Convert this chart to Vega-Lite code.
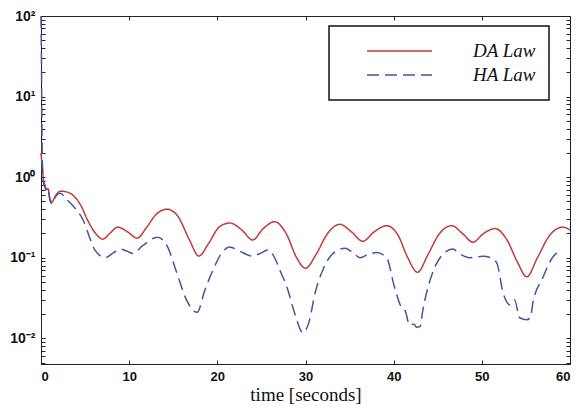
{
  "$schema": "https://vega.github.io/schema/vega-lite/v6.json",
  "autosize": "none",
  "width": 529,
  "height": 348,
  "padding": {"left": 41, "top": 16, "right": 9, "bottom": 51},
  "background": "white",
  "config": {
    "view": {"stroke": null},
    "legend": {"strokeWidth": 1.5},
    "axis": {"grid": false, "domainColor": "#222", "tickColor": "#222", "labelColor": "#111", "labelFont": "Liberation Sans", "labelFontSize": 13, "labelFontWeight": "bold"}
  },
  "datasets": {
    "curves": [
      {"t": 0, "v": 2.0, "s": "DA Law"}, {"t": 0.15, "v": 1.3, "s": "DA Law"}, {"t": 0.3, "v": 0.9, "s": "DA Law"}, {"t": 0.45, "v": 0.8, "s": "DA Law"}, {"t": 0.6, "v": 0.7, "s": "DA Law"}, {"t": 0.8, "v": 0.72, "s": "DA Law"}, {"t": 1.0, "v": 0.55, "s": "DA Law"}, {"t": 1.25, "v": 0.49, "s": "DA Law"}, {"t": 1.5, "v": 0.55, "s": "DA Law"}, {"t": 1.8, "v": 0.62, "s": "DA Law"}, {"t": 2.2, "v": 0.67, "s": "DA Law"}, {"t": 2.8, "v": 0.66, "s": "DA Law"}, {"t": 3.6, "v": 0.6, "s": "DA Law"}, {"t": 4.5, "v": 0.45, "s": "DA Law"}, {"t": 5.3, "v": 0.29, "s": "DA Law"}, {"t": 6.2, "v": 0.2, "s": "DA Law"}, {"t": 7.0, "v": 0.17, "s": "DA Law"}, {"t": 7.8, "v": 0.2, "s": "DA Law"}, {"t": 8.7, "v": 0.24, "s": "DA Law"}, {"t": 9.8, "v": 0.21, "s": "DA Law"}, {"t": 10.9, "v": 0.175, "s": "DA Law"}, {"t": 12.0, "v": 0.24, "s": "DA Law"}, {"t": 13.0, "v": 0.34, "s": "DA Law"}, {"t": 14.3, "v": 0.4, "s": "DA Law"}, {"t": 15.5, "v": 0.33, "s": "DA Law"}, {"t": 16.8, "v": 0.17, "s": "DA Law"}, {"t": 17.9, "v": 0.105, "s": "DA Law"}, {"t": 19.0, "v": 0.15, "s": "DA Law"}, {"t": 20.2, "v": 0.24, "s": "DA Law"}, {"t": 21.4, "v": 0.27, "s": "DA Law"}, {"t": 22.8, "v": 0.22, "s": "DA Law"}, {"t": 24.0, "v": 0.166, "s": "DA Law"}, {"t": 25.2, "v": 0.23, "s": "DA Law"}, {"t": 26.5, "v": 0.28, "s": "DA Law"}, {"t": 27.8, "v": 0.2, "s": "DA Law"}, {"t": 29.0, "v": 0.1, "s": "DA Law"}, {"t": 30.0, "v": 0.074, "s": "DA Law"}, {"t": 31.2, "v": 0.11, "s": "DA Law"}, {"t": 32.5, "v": 0.2, "s": "DA Law"}, {"t": 33.9, "v": 0.26, "s": "DA Law"}, {"t": 35.2, "v": 0.21, "s": "DA Law"}, {"t": 36.5, "v": 0.16, "s": "DA Law"}, {"t": 37.8, "v": 0.21, "s": "DA Law"}, {"t": 39.2, "v": 0.25, "s": "DA Law"}, {"t": 40.5, "v": 0.19, "s": "DA Law"}, {"t": 41.6, "v": 0.1, "s": "DA Law"}, {"t": 42.7, "v": 0.066, "s": "DA Law"}, {"t": 43.9, "v": 0.11, "s": "DA Law"}, {"t": 45.2, "v": 0.2, "s": "DA Law"}, {"t": 46.6, "v": 0.25, "s": "DA Law"}, {"t": 47.8, "v": 0.2, "s": "DA Law"}, {"t": 49.0, "v": 0.156, "s": "DA Law"}, {"t": 50.2, "v": 0.2, "s": "DA Law"}, {"t": 51.5, "v": 0.23, "s": "DA Law"}, {"t": 52.8, "v": 0.17, "s": "DA Law"}, {"t": 54.0, "v": 0.09, "s": "DA Law"}, {"t": 55.1, "v": 0.058, "s": "DA Law"}, {"t": 56.3, "v": 0.1, "s": "DA Law"}, {"t": 57.7, "v": 0.19, "s": "DA Law"}, {"t": 59.2, "v": 0.24, "s": "DA Law"}, {"t": 60, "v": 0.22, "s": "DA Law"},
      {"t": 0, "v": 100, "s": "HA Law"}, {"t": 0.05, "v": 30, "s": "HA Law"}, {"t": 0.1, "v": 5, "s": "HA Law"}, {"t": 0.15, "v": 1.6, "s": "HA Law"}, {"t": 0.3, "v": 0.85, "s": "HA Law"}, {"t": 0.45, "v": 0.75, "s": "HA Law"}, {"t": 0.6, "v": 0.68, "s": "HA Law"}, {"t": 0.8, "v": 0.7, "s": "HA Law"}, {"t": 1.0, "v": 0.52, "s": "HA Law"}, {"t": 1.25, "v": 0.47, "s": "HA Law"}, {"t": 1.5, "v": 0.53, "s": "HA Law"}, {"t": 1.8, "v": 0.6, "s": "HA Law"}, {"t": 2.2, "v": 0.63, "s": "HA Law"}, {"t": 2.9, "v": 0.53, "s": "HA Law"}, {"t": 3.8, "v": 0.42, "s": "HA Law"}, {"t": 4.8, "v": 0.29, "s": "HA Law"}, {"t": 5.5, "v": 0.18, "s": "HA Law"}, {"t": 6.1, "v": 0.125, "s": "HA Law"}, {"t": 7.3, "v": 0.1, "s": "HA Law"}, {"t": 8.2, "v": 0.115, "s": "HA Law"}, {"t": 9.0, "v": 0.128, "s": "HA Law"}, {"t": 9.8, "v": 0.12, "s": "HA Law"}, {"t": 10.4, "v": 0.113, "s": "HA Law"}, {"t": 11.5, "v": 0.14, "s": "HA Law"}, {"t": 13.2, "v": 0.18, "s": "HA Law"}, {"t": 14.3, "v": 0.14, "s": "HA Law"}, {"t": 15.4, "v": 0.065, "s": "HA Law"}, {"t": 16.5, "v": 0.03, "s": "HA Law"}, {"t": 17.7, "v": 0.021, "s": "HA Law"}, {"t": 18.6, "v": 0.04, "s": "HA Law"}, {"t": 19.5, "v": 0.07, "s": "HA Law"}, {"t": 20.4, "v": 0.11, "s": "HA Law"}, {"t": 21.4, "v": 0.136, "s": "HA Law"}, {"t": 22.6, "v": 0.12, "s": "HA Law"}, {"t": 23.9, "v": 0.105, "s": "HA Law"}, {"t": 25.0, "v": 0.115, "s": "HA Law"}, {"t": 25.7, "v": 0.125, "s": "HA Law"}, {"t": 26.5, "v": 0.1, "s": "HA Law"}, {"t": 27.1, "v": 0.07, "s": "HA Law"}, {"t": 27.9, "v": 0.043, "s": "HA Law"}, {"t": 28.8, "v": 0.02, "s": "HA Law"}, {"t": 29.7, "v": 0.0117, "s": "HA Law"}, {"t": 30.4, "v": 0.016, "s": "HA Law"}, {"t": 31.1, "v": 0.037, "s": "HA Law"}, {"t": 32.0, "v": 0.072, "s": "HA Law"}, {"t": 33.2, "v": 0.115, "s": "HA Law"}, {"t": 34.5, "v": 0.131, "s": "HA Law"}, {"t": 35.4, "v": 0.115, "s": "HA Law"}, {"t": 36.2, "v": 0.1, "s": "HA Law"}, {"t": 37.1, "v": 0.11, "s": "HA Law"}, {"t": 38.1, "v": 0.116, "s": "HA Law"}, {"t": 39.2, "v": 0.1, "s": "HA Law"}, {"t": 40.1, "v": 0.043, "s": "HA Law"}, {"t": 40.9, "v": 0.024, "s": "HA Law"}, {"t": 41.3, "v": 0.022, "s": "HA Law"}, {"t": 41.8, "v": 0.0147, "s": "HA Law"}, {"t": 42.3, "v": 0.015, "s": "HA Law"}, {"t": 42.6, "v": 0.0137, "s": "HA Law"}, {"t": 43.0, "v": 0.014, "s": "HA Law"}, {"t": 43.3, "v": 0.022, "s": "HA Law"}, {"t": 44.3, "v": 0.06, "s": "HA Law"}, {"t": 45.5, "v": 0.108, "s": "HA Law"}, {"t": 46.7, "v": 0.128, "s": "HA Law"}, {"t": 47.6, "v": 0.11, "s": "HA Law"}, {"t": 48.6, "v": 0.1, "s": "HA Law"}, {"t": 50.1, "v": 0.104, "s": "HA Law"}, {"t": 51.0, "v": 0.1, "s": "HA Law"}, {"t": 51.7, "v": 0.086, "s": "HA Law"}, {"t": 52.4, "v": 0.037, "s": "HA Law"}, {"t": 53.2, "v": 0.026, "s": "HA Law"}, {"t": 53.7, "v": 0.03, "s": "HA Law"}, {"t": 54.3, "v": 0.018, "s": "HA Law"}, {"t": 55.1, "v": 0.017, "s": "HA Law"}, {"t": 55.5, "v": 0.018, "s": "HA Law"}, {"t": 55.8, "v": 0.028, "s": "HA Law"}, {"t": 56.9, "v": 0.056, "s": "HA Law"}, {"t": 58.0, "v": 0.1, "s": "HA Law"}, {"t": 59.1, "v": 0.125, "s": "HA Law"}
    ]
  },
  "data": {"name": "curves"},
  "resolve": {"axis": {"x": "independent", "y": "independent"}},
  "layer": [
    {
      "mark": {"type": "line", "strokeWidth": 1.5, "interpolate": "monotone"},
      "encoding": {
        "x": {"field": "t", "type": "quantitative", "scale": {"domain": [0, 60], "nice": false},
          "axis": {"values": [0, 10, 20, 30, 40, 50, 60], "tickSize": -4, "labelPadding": 10, "title": "time [seconds]", "titleFont": "Liberation Serif", "titleFontSize": 19, "titleFontWeight": "normal", "titleColor": "#111", "titlePadding": 2}},
        "y": {"field": "v", "type": "quantitative", "scale": {"type": "log", "domain": [0.0048, 100], "nice": false},
          "axis": {"values": [0.005, 0.006, 0.007, 0.008, 0.009, 0.01, 0.02, 0.03, 0.04, 0.05, 0.06, 0.07, 0.08, 0.09, 0.1, 0.2, 0.3, 0.4, 0.5, 0.6, 0.7, 0.8, 0.9, 1, 2, 3, 4, 5, 6, 7, 8, 9, 10, 20, 30, 40, 50, 60, 70, 80, 90, 100],
            "labelExpr": "datum.value == 100 ? '10²' : datum.value == 10 ? '10¹' : datum.value == 1 ? '10⁰' : datum.value == 0.1 ? '10⁻¹' : datum.value == 0.01 ? '10⁻²' : ''",
            "labelOverlap": false, "labelFontSize": 14, "tickSize": -4, "labelPadding": 10, "title": null}},
        "color": {"field": "s", "type": "nominal", "scale": {"domain": ["DA Law", "HA Law"], "range": ["#c0393f", "#46569a"]},
          "legend": {"title": null, "orient": "none", "legendX": 288, "legendY": 10, "strokeColor": "#111", "padding": 13, "symbolType": "stroke", "symbolSize": 4225, "clipHeight": 24, "rowPadding": 0, "symbolStrokeWidth": 1.6, "symbolOffset": 24, "labelOffset": 40, "labelFont": "Liberation Serif", "labelFontStyle": "italic", "labelFontSize": 19, "labelColor": "#111", "fillColor": "white"}},
        "strokeDash": {"field": "s", "type": "nominal", "scale": {"domain": ["DA Law", "HA Law"], "range": [[1, 0], [12, 6]]}, "legend": null}
      }
    },
    {
      "mark": {"type": "point", "opacity": 0},
      "encoding": {
        "x": {"field": "t", "type": "quantitative", "axis": {"orient": "top", "values": [0, 10, 20, 30, 40, 50, 60], "tickSize": -4, "labels": false, "title": null}},
        "y": {"field": "v", "type": "quantitative", "axis": {"orient": "right", "values": [0.005, 0.006, 0.007, 0.008, 0.009, 0.01, 0.02, 0.03, 0.04, 0.05, 0.06, 0.07, 0.08, 0.09, 0.1, 0.2, 0.3, 0.4, 0.5, 0.6, 0.7, 0.8, 0.9, 1, 2, 3, 4, 5, 6, 7, 8, 9, 10, 20, 30, 40, 50, 60, 70, 80, 90, 100], "tickSize": -4, "labels": false, "title": null}}
      }
    }
  ]
}
